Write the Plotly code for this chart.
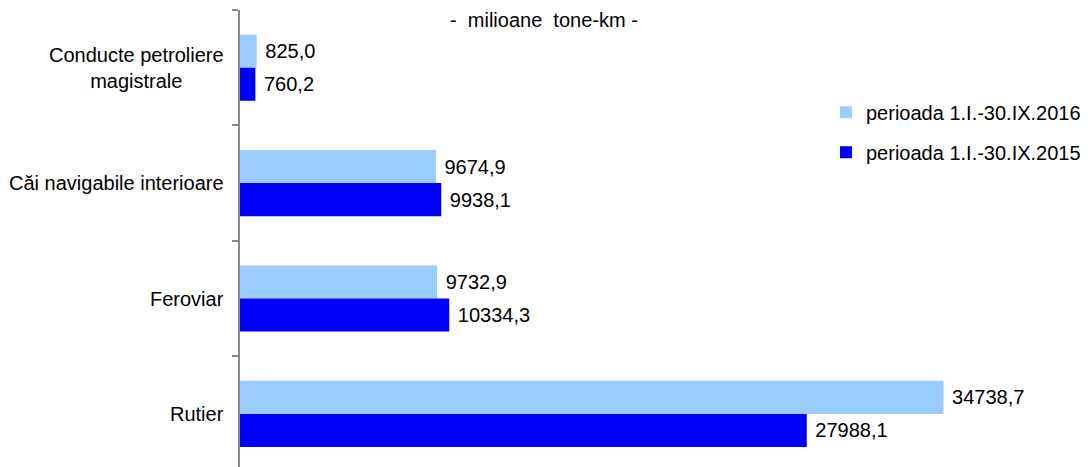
import plotly.graph_objects as go

categories = ["Conducte petroliere<br>magistrale", "Căi navigabile interioare", "Feroviar", "Rutier"]
values_2016 = [825.0, 9674.9, 9732.9, 34738.7]
values_2015 = [760.2, 9938.1, 10334.3, 27988.1]
series_names = ["perioada 1.I.-30.IX.2016", "perioada 1.I.-30.IX.2015"]
subtitle = "-  milioane  tone-km -"

FONT = "Liberation Sans, Arial, sans-serif"
FS = 20

def fmt(v):
    return " " + f"{v:.1f}".replace(".", ",")

ids = list(range(len(categories)))

fig = go.Figure()
for name, vals, col, grp in [(series_names[0], values_2016, "#99CCFF", "a"),
                             (series_names[1], values_2015, "#0000FF", "b")]:
    fig.add_trace(go.Bar(
        y=ids, x=vals, orientation="h", name=name,
        marker=dict(color=col, line=dict(width=0)),
        text=[fmt(v) for v in vals], textposition="outside",
        textfont=dict(family=FONT, size=FS, color="black"),
        cliponaxis=False, legendgroup=grp,
    ))

for i, c in enumerate(categories):
    fig.add_annotation(xref="paper", yref="y", x=0, y=i, text=c, showarrow=False,
                       xanchor="right", yanchor="middle", xshift=-14, align="center",
                       font=dict(family=FONT, size=FS, color="black"))

PW = 1080 - 232 - 38
fig.add_annotation(xref="paper", yref="paper", x=(544 - 240) / PW, y=1, yshift=-10,
                   text=subtitle, showarrow=False, xanchor="center", yanchor="middle",
                   font=dict(family=FONT, size=FS, color="black"))

fig.update_layout(
    width=1080, height=459,
    margin=dict(l=232, r=38, t=2, b=0),
    paper_bgcolor="white", plot_bgcolor="white",
    barmode="group", bargap=0.427, bargroupgap=0,
    font=dict(family=FONT, size=FS, color="black"),
    showlegend=True,
    legend=dict(x=(826 - 240) / PW, y=0.819, xanchor="left", yanchor="top",
                traceorder="grouped", tracegroupgap=11,
                font=dict(family=FONT, size=FS, color="black"),
                bgcolor="rgba(0,0,0,0)"),
    xaxis=dict(range=[0, 40000], showgrid=False, zeroline=False, showline=False,
               showticklabels=False, ticks=""),
    yaxis=dict(type="linear", range=[3.46, -0.5], showgrid=False, zeroline=False,
               showline=True, linecolor="#888888", linewidth=2,
               ticks="outside", tickvals=[-0.5, 0.5, 1.5, 2.5, 3.5], ticklen=6,
               tickcolor="#888888", tickwidth=2, showticklabels=False),
)

fig.write_html("out.html")
